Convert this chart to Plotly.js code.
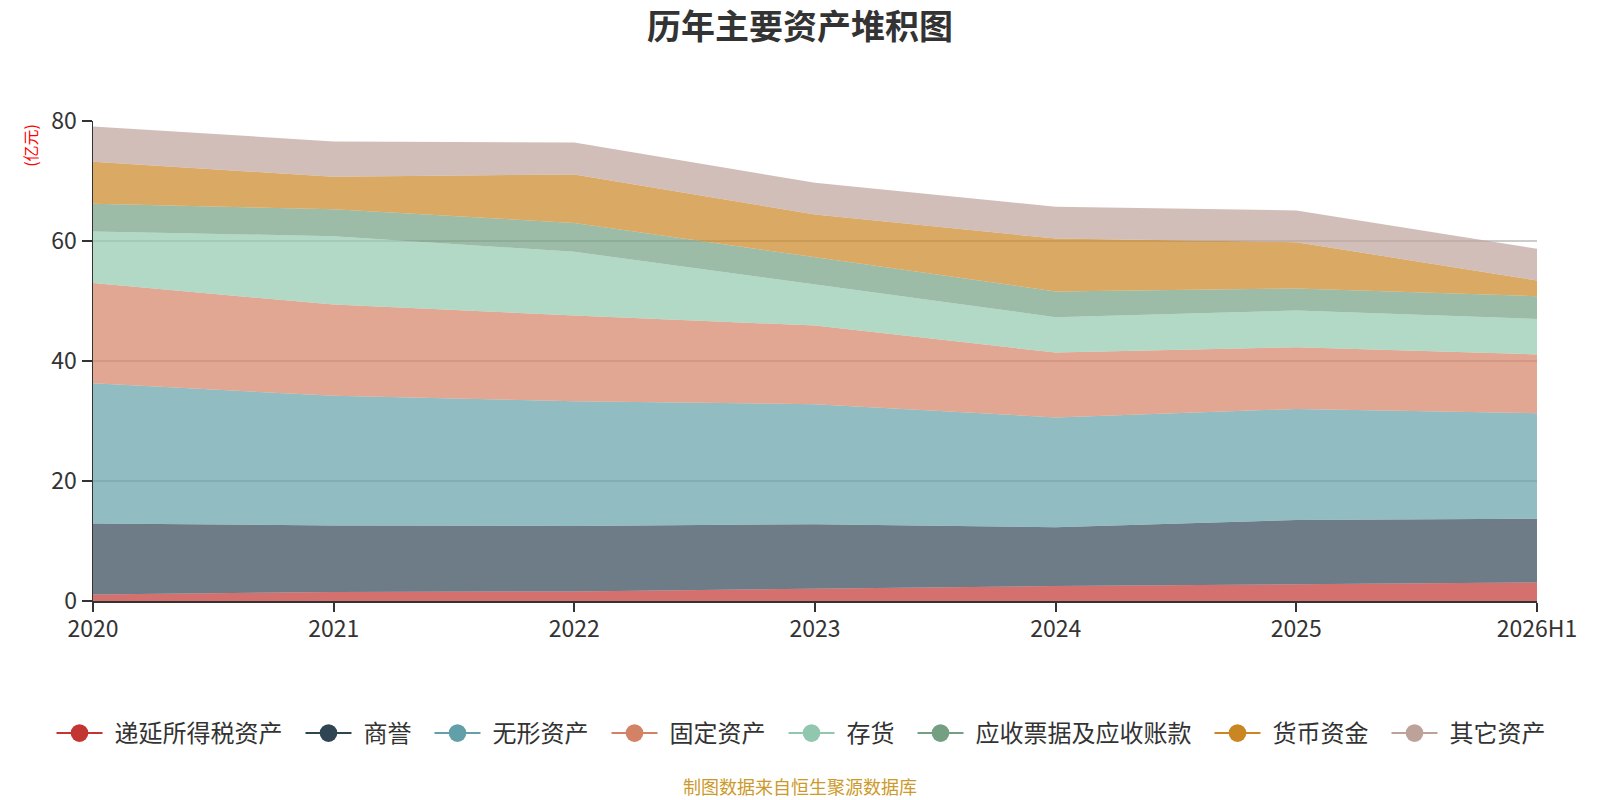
<!DOCTYPE html>
<html>
<head>
<meta charset="utf-8">
<script src="https://cdn.plot.ly/plotly-3.0.1.min.js"></script>
<style>
  html, body { margin: 0; padding: 0; background: #fff; }
  #chart { width: 1600px; height: 800px; }
</style>
</head>
<body>
<div id="chart"></div>
<script>
// 历年主要资产 (亿元)
const years = ["2020", "2021", "2022", "2023", "2024", "2025", "2026H1"];

const deferredTax = [1.1, 1.5, 1.6, 2.1, 2.5, 2.8, 3.1];
const goodwill = [11.8, 11.1, 10.9, 10.7, 9.8, 10.7, 10.6];
const intangible = [23.4, 21.6, 20.8, 20.0, 18.3, 18.5, 17.6];
const fixedAssets = [16.7, 15.2, 14.3, 13.1, 10.8, 10.3, 9.8];
const inventory = [8.6, 11.4, 10.6, 6.8, 5.9, 6.1, 5.9];
const receivables = [4.6, 4.5, 4.8, 4.6, 4.3, 3.7, 3.8];
const cash = [7.0, 5.4, 8.1, 7.1, 8.8, 7.7, 2.6];
const otherAssets = [5.9, 5.9, 5.3, 5.3, 5.3, 5.3, 5.3];

const seriesNames = [
  "递延所得税资产",
  "商誉",
  "无形资产",
  "固定资产",
  "存货",
  "应收票据及应收账款",
  "货币资金",
  "其它资产",
];
const seriesValues = [
  deferredTax,
  goodwill,
  intangible,
  fixedAssets,
  inventory,
  receivables,
  cash,
  otherAssets,
];
const colors = [
  "#c23531",
  "#2f4554",
  "#61a0a8",
  "#d48265",
  "#91c7ae",
  "#749f83",
  "#ca8622",
  "#bda29a",
];

function hexToRgba(hex, a) {
  const n = parseInt(hex.slice(1), 16);
  return "rgba(" + ((n >> 16) & 255) + "," + ((n >> 8) & 255) + "," + (n & 255) + "," + a + ")";
}

const font = "Noto Sans CJK SC, Noto Sans, sans-serif";
const legendFontSize = 24;
let traces = [];

// stacked areas
seriesValues.forEach((vals, i) => {
  traces.push({
    type: "scatter",
    x: years,
    y: vals,
    name: seriesNames[i],
    stackgroup: "assets",
    mode: "lines",
    line: { width: 0, color: colors[i] },
    fillcolor: hexToRgba(colors[i], 0.7),
    showlegend: false,
  });
});

// legend entries in line + circle style
seriesNames.forEach((name, i) => {
  traces.push({
    type: "scatter",
    x: [null],
    y: [null],
    name: name,
    mode: "lines+markers",
    line: { width: 2, color: colors[i] },
    marker: { size: 16, color: colors[i] },
    hoverinfo: "skip",
  });
});

const layout = {
  width: 1600,
  height: 800,
  margin: { l: 93, r: 63, t: 121, b: 199, autoexpand: false },
  paper_bgcolor: "#fff",
  plot_bgcolor: "#fff",
  font: { family: font, color: "#333" },
  title: {
    text: "<b>历年主要资产堆积图</b>",
    font: { size: 34, color: "#333", family: font },
    xref: "container",
    x: 0.5,
    xanchor: "center",
    yref: "container",
    y: 0.966,
    yanchor: "middle",
  },
  xaxis: {
    type: "category",
    range: [0, years.length - 1],
    showgrid: false,
    showline: true,
    linecolor: "#333",
    linewidth: 2,
    ticks: "outside",
    ticklen: 9,
    tickwidth: 2,
    tickcolor: "#333",
    ticklabelstandoff: -3,
    tickfont: { size: 23, color: "#333", family: font },
    fixedrange: true,
  },
  yaxis: {
    range: [0, 80],
    dtick: 20,
    showgrid: true,
    gridcolor: "#ccc",
    gridwidth: 1.5,
    zeroline: false,
    showline: true,
    linecolor: "#333",
    linewidth: 1.5,
    ticks: "outside",
    ticklen: 10,
    tickwidth: 2,
    tickcolor: "#333",
    tickfont: { size: 23, color: "#333", family: font },
    fixedrange: true,
  },
  showlegend: true,
  legend: {
    orientation: "h",
    traceorder: "normal",
    x: 0.4905,
    xanchor: "center",
    y: -0.276,
    yanchor: "middle",
    font: { size: legendFontSize, color: "#333", family: font },
    itemclick: false,
    itemdoubleclick: false,
  },
  annotations: [
    {
      text: "(亿元)",
      xref: "paper",
      yref: "paper",
      x: -0.0434,
      y: 0.949,
      xanchor: "center",
      yanchor: "middle",
      textangle: -90,
      showarrow: false,
      font: { size: 16, color: "#ff0000", family: font },
    },
    {
      text: "制图数据来自恒生聚源数据库",
      xref: "paper",
      yref: "paper",
      x: 0.4898,
      y: -0.386,
      xanchor: "center",
      yanchor: "middle",
      showarrow: false,
      font: { size: 18, color: "#cc9a2a", family: font },
    },
  ],
};

// widen the legend entries: longer line, gap before text, wider gap between items
function spreadLegend() {
  const legend = document.querySelector(".legend");
  if (!legend) return;
  const scroll = legend.querySelector(".scrollbox");
  if (scroll) scroll.removeAttribute("clip-path");
  legend.querySelectorAll(".groups").forEach((g) => g.setAttribute("transform", "translate(0,0)"));
  const items = legend.querySelectorAll(".traces");
  let x = 0;
  let y = 0;
  items.forEach((item, i) => {
    const m = /translate\(([-\d.]+)[ ,]+([-\d.]+)\)/.exec(item.getAttribute("transform"));
    if (i == 0 && m) y = parseFloat(m[2]);
    item.setAttribute("transform", "translate(" + x + "," + y + ")");
    const line = item.querySelector(".legendlines path");
    if (line) line.setAttribute("d", "M0,0h46");
    const pt = item.querySelector(".legendpoints path");
    if (pt) pt.setAttribute("transform", "translate(23,0) scale(1.1)");
    const text = item.querySelector("text.legendtext");
    text.setAttribute("x", 58);
    // CJK glyphs are one em wide
    x += 58 + text.textContent.length * legendFontSize;
    if (i < items.length - 1) x += 23;
  });
  const m = /translate\(([-\d.]+)[ ,]+([-\d.]+)\)/.exec(legend.getAttribute("transform"));
  const ly = m ? parseFloat(m[2]) : 0;
  legend.setAttribute("transform", "translate(" + (801 - x / 2) + "," + ly + ")");
  const bg = legend.querySelector("rect.bg");
  if (bg) bg.setAttribute("width", x);
}

Plotly.newPlot("chart", traces, layout, { displayModeBar: false, staticPlot: true }).then(spreadLegend);
</script>
</body>
</html>
